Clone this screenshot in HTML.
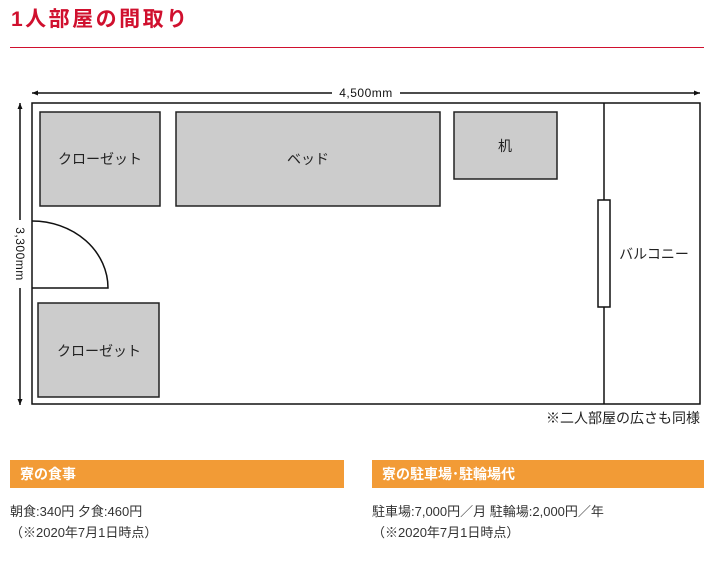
<!DOCTYPE html>
<html><head><meta charset="utf-8"><style>
body{margin:0;width:712px;height:561px;background:#fff;font-family:"Liberation Sans","Noto Sans CJK JP",sans-serif;position:relative;overflow:hidden}
.t{position:absolute;left:11px;top:3px;font-size:21px;font-weight:bold;color:#d0102e;letter-spacing:2.5px}
.hr{position:absolute;left:10px;top:47px;width:694px;height:1px;background:#d0102e}
.bar{position:absolute;top:460px;height:28px;background:#f29b36;color:#fff;font-weight:bold;font-size:14px;line-height:28px;padding-left:10px;box-sizing:border-box}
.p{position:absolute;font-size:13px;color:#333;line-height:21px}
</style></head><body>
<div class="t">1人部屋の間取り</div>
<div class="hr"></div>
<svg width="712" height="440" style="position:absolute;left:0;top:0" font-family="Liberation Sans, Noto Sans CJK JP, sans-serif">
<defs><marker id="a" markerUnits="userSpaceOnUse" markerWidth="6" markerHeight="5" refX="6" refY="2.5" orient="auto"><path d="M0,0 L6,2.5 L0,5z" fill="#111"/></marker></defs>
<line x1="332" y1="93" x2="32" y2="93" stroke="#111" stroke-width="1.5" marker-end="url(#a)"/>
<line x1="400" y1="93" x2="700" y2="93" stroke="#111" stroke-width="1.5" marker-end="url(#a)"/>
<text x="366" y="97" font-size="12" text-anchor="middle" fill="#111" letter-spacing="0.5">4,500mm</text>
<line x1="20" y1="220" x2="20" y2="103" stroke="#111" stroke-width="1.5" marker-end="url(#a)"/>
<line x1="20" y1="288" x2="20" y2="405" stroke="#111" stroke-width="1.5" marker-end="url(#a)"/>
<text transform="translate(16,254) rotate(90)" font-size="12" text-anchor="middle" fill="#111" letter-spacing="0.5">3,300mm</text>
<rect x="32" y="103" width="668" height="301" fill="none" stroke="#111" stroke-width="1.5"/>
<line x1="604" y1="103" x2="604" y2="404" stroke="#111" stroke-width="1.5"/>
<rect x="598" y="200" width="12" height="107" fill="#fff" stroke="#111" stroke-width="1.5"/>
<g fill="#ccc" stroke="#222" stroke-width="1.5">
<rect x="40" y="112" width="120" height="94"/>
<rect x="176" y="112" width="264" height="94"/>
<rect x="454" y="112" width="103" height="67"/>
<rect x="38" y="303" width="121" height="94"/>
</g>
<path d="M32,221 A76,67 0 0 1 108,288 L32,288" fill="none" stroke="#111" stroke-width="1.5"/>
<g font-size="14" fill="#222" text-anchor="middle">
<text x="100" y="164">クローゼット</text>
<text x="308" y="164">ベッド</text>
<text x="505" y="151">机</text>
<text x="99" y="356">クローゼット</text>
<text x="654" y="259">バルコニー</text>
<text x="700" y="423" text-anchor="end">※二人部屋の広さも同様</text>
</g>
</svg>
<div class="bar" style="left:10px;width:334px">寮の食事</div>
<div class="bar" style="left:372px;width:332px">寮の駐車場･駐輪場代</div>
<div class="p" style="left:10px;top:501px">朝食:340円 夕食:460円<br>（※2020年7月1日時点）</div>
<div class="p" style="left:372px;top:501px">駐車場:7,000円／月 駐輪場:2,000円／年<br>（※2020年7月1日時点）</div>
</body></html>
